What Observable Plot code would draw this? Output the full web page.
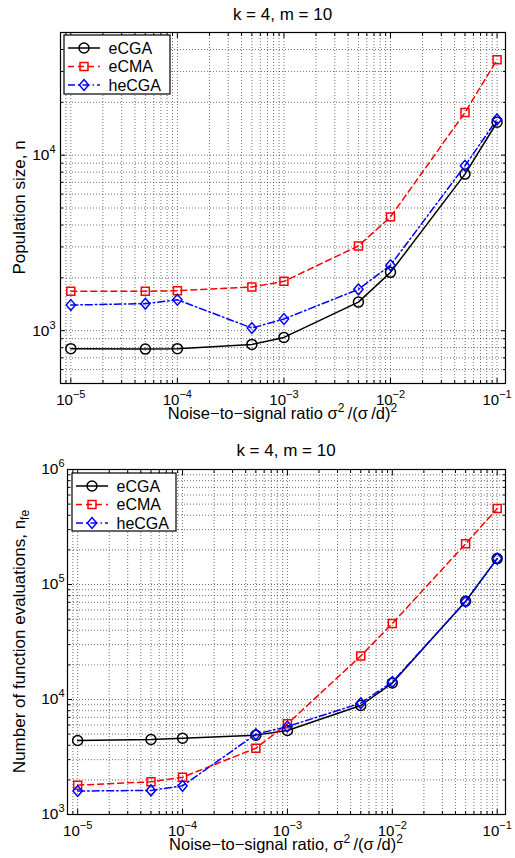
<!DOCTYPE html>
<html>
<head>
<meta charset="utf-8">
<script src="https://cdn.jsdelivr.net/npm/d3@7"></script>
<script src="https://cdn.jsdelivr.net/npm/@observablehq/plot@0.6"></script>
<style>
  body { margin: 0; background: #fff; }
  #wrap { position: relative; width: 515px; height: 858px; overflow: hidden; }
  #wrap svg { position: absolute; left: 0; }
</style>
</head>
<body>
<div id="wrap"></div>
<script>
// ---------------- data ----------------
const noise = [1e-5, 5e-5, 1e-4, 5e-4, 1e-3, 5e-3, 1e-2, 5e-2, 1e-1];
const seriesNames = ["eCGA", "eCMA", "heCGA"];

const popECGA  = [790, 785, 790, 835, 915, 1455, 2150, 7800, 15400];
const popECMA  = [1675, 1675, 1690, 1775, 1910, 3040, 4450, 17500, 35000];
const popHeCGA = [1400, 1425, 1500, 1035, 1165, 1720, 2360, 8700, 16000];

const nfeECGA  = [4400, 4490, 4600, 4900, 5370, 8870, 13900, 71500, 168000];
const nfeECMA  = [1800, 1925, 2110, 3770, 6140, 23900, 45800, 226000, 457000];
const nfeHeCGA = [1600, 1620, 1775, 4990, 5820, 9290, 14200, 71000, 168000];

const xTickValues = [1e-5, 1e-4, 1e-3, 1e-2, 1e-1];
const popTickValues = [1e3, 1e4];
const nfeTickValues = [1e3, 1e4, 1e5, 1e6];

const titleText = "k = 4, m = 10";
const popYLabel = [["Population size, n"]];
const nfeYLabel = [["Number of function evaluations, n"], ["fe", "sub"]];
const popXLabel = [["Noise\u2212to\u2212signal ratio \u03c3"], ["2", "sup"], ["\u2009/(\u03c3\u2009/d)"], ["2", "sup"]];
const nfeXLabel = [["Noise\u2212to\u2212signal ratio, \u03c3"], ["2", "sup"], ["\u2009/(\u03c3\u2009/d)"], ["2", "sup"]];

// ---------------- styles ----------------
const FONT = '"Liberation Sans", Arial, Helvetica, sans-serif';
const diamondSym = {
  draw(ctx, size) {
    const r = Math.sqrt(size / Math.PI);
    const w = r * 0.93, h = r * 1.08;
    ctx.moveTo(0, -h); ctx.lineTo(w, 0); ctx.lineTo(0, h); ctx.lineTo(-w, 0); ctx.closePath();
  }
};
const STYLE = {
  eCGA:  {color: "#000", dash: null, symbol: "circle", d3sym: d3.symbolCircle, r: 5},
  eCMA:  {color: "#f00", dash: "6,4", symbol: "square", d3sym: d3.symbolSquare, r: 4.5},
  heCGA: {color: "#00f", dash: "7,3,1.5,3", symbol: diamondSym, d3sym: diamondSym, r: 5}
};

function logMajor(lo, hi) {
  const out = [];
  for (let e = Math.floor(Math.log10(lo)); e <= Math.ceil(Math.log10(hi)); e++) {
    const v = Math.pow(10, e);
    if (v >= lo * 0.9999 && v <= hi * 1.0001) out.push(v);
  }
  return out;
}
function logMinor(lo, hi) {
  const out = [];
  for (let e = Math.floor(Math.log10(lo)) - 1; e <= Math.ceil(Math.log10(hi)); e++) {
    for (let m = 2; m <= 9; m++) {
      const v = m * Math.pow(10, e);
      if (v >= lo * 0.9999 && v <= hi * 1.0001) out.push(v);
    }
  }
  return out;
}
const fmtPow = d => "10|" + String(Math.round(Math.log10(d))).replace("-", "\u2212");
const NS = "http://www.w3.org/2000/svg";

function richText(parent, parts, supSize, shift) {
  let off = 0;
  parts.forEach(([txt, kind]) => {
    const sp = document.createElementNS(NS, "tspan");
    let target = kind === "sup" ? -shift : kind === "sub" ? shift * 0.6 : 0;
    const dy = target - off;
    if (dy !== 0) sp.setAttribute("dy", dy);
    off = target;
    if (kind) sp.setAttribute("font-size", supSize);
    sp.textContent = txt;
    parent.appendChild(sp);
  });
}

function panel(cfg) {
  const xDomain = [8e-6, 0.12];
  const rows = [];
  cfg.series.forEach((vals, si) => vals.forEach((v, i) => rows.push({x: noise[i], y: v, name: seriesNames[si]})));
  const xMinor = logMinor(...xDomain), yMinor = logMinor(...cfg.yDomain);
  const xMajorAll = logMajor(...xDomain), yMajorAll = logMajor(...cfg.yDomain);
  const grid = {stroke: "#000", strokeOpacity: 0.7, strokeWidth: 0.8, strokeDasharray: "1,2"};
  const noText = () => "";
  const marks = [
    Plot.ruleX(xMajorAll.concat(xMinor), grid),
    Plot.ruleY(yMajorAll.concat(yMinor), grid),
    Plot.axisX({anchor: "bottom", ticks: xTickValues, tickSize: 0, tickPadding: 10.5, tickFormat: fmtPow, fontSize: 15, label: null}),
    Plot.axisY({anchor: "left", ticks: cfg.yTicks, tickSize: 0, tickPadding: cfg.yPad, tickFormat: fmtPow, fontSize: 15.5, label: null}),
    Plot.axisX({anchor: "bottom", ticks: xMajorAll, tickSize: -5, tickFormat: noText, label: null}),
    Plot.axisX({anchor: "top", ticks: xMajorAll, tickSize: -5, tickFormat: noText, label: null}),
    Plot.axisX({anchor: "bottom", ticks: xMinor, tickSize: -3, tickFormat: noText, label: null}),
    Plot.axisX({anchor: "top", ticks: xMinor, tickSize: -3, tickFormat: noText, label: null}),
    Plot.axisY({anchor: "left", ticks: yMajorAll, tickSize: -5, tickFormat: noText, label: null}),
    Plot.axisY({anchor: "right", ticks: yMajorAll, tickSize: -5, tickFormat: noText, label: null}),
    Plot.axisY({anchor: "left", ticks: yMinor, tickSize: -3, tickFormat: noText, label: null}),
    Plot.axisY({anchor: "right", ticks: yMinor, tickSize: -3, tickFormat: noText, label: null})
  ];
  seriesNames.forEach(name => {
    const st = STYLE[name];
    const d = rows.filter(r => r.name === name);
    marks.push(Plot.line(d, {x: "x", y: "y", stroke: st.color, strokeWidth: 1.5, strokeDasharray: st.dash}));
    marks.push(Plot.dot(d, {x: "x", y: "y", stroke: st.color, strokeWidth: 1.5, fill: "none", r: st.r, symbol: st.symbol}));
  });
  marks.push(Plot.frame({stroke: "#000", strokeWidth: 1.2}));

  const svg = Plot.plot({
    width: 515, height: cfg.height,
    marginLeft: cfg.ml, marginRight: 10, marginTop: cfg.mt, marginBottom: cfg.mb,
    style: {fontFamily: FONT, fontSize: "15.5px", background: "transparent", color: "#000", overflow: "visible"},
    x: {type: "log", domain: xDomain},
    y: {type: "log", domain: cfg.yDomain},
    marks
  });
  svg.style.top = cfg.top + "px";

  // superscripted tick labels
  svg.querySelectorAll('g[aria-label$="tick label"] text').forEach(t => {
    const s = t.textContent;
    if (!s.includes("|")) return;
    const [b, e] = s.split("|");
    t.textContent = b;
    const sp = document.createElementNS(NS, "tspan");
    sp.setAttribute("dy", "-7");
    sp.setAttribute("font-size", "11px");
    sp.textContent = e;
    t.appendChild(sp);
  });

  const g = d3.select(svg).append("g").attr("font-family", FONT).attr("fill", "#000");
  const fx = (cfg.ml + 505) / 2;
  const fy = (cfg.mt + cfg.height - cfg.mb) / 2;
  g.append("text").attr("x", fx).attr("y", cfg.titleY).attr("text-anchor", "middle").attr("font-size", 17).text(titleText);
  const xl = g.append("text").attr("x", fx).attr("y", cfg.xlabY).attr("text-anchor", "middle").attr("font-size", 16.5);
  richText(xl.node(), cfg.xlab, 12, 6.5);
  const yl = g.append("text").attr("transform", `translate(25,${fy}) rotate(-90)`).attr("text-anchor", "middle").attr("font-size", 17);
  richText(yl.node(), cfg.ylab, 12, 7);

  // legend
  const b = cfg.legend;
  const lg = g.append("g");
  lg.append("rect").attr("x", b.x).attr("y", b.y).attr("width", b.w).attr("height", b.h)
    .attr("fill", "#fff").attr("stroke", "#000").attr("stroke-width", 1.2);
  seriesNames.forEach((name, i) => {
    const st = STYLE[name];
    const cy = b.y + 13 + i * 18.5;
    lg.append("line").attr("x1", b.x + 4).attr("x2", b.x + 36).attr("y1", cy).attr("y2", cy)
      .attr("stroke", st.color).attr("stroke-width", 1.5).attr("stroke-dasharray", st.dash);
    lg.append("path").attr("transform", `translate(${b.x + 20},${cy})`)
      .attr("d", d3.symbol(st.d3sym, Math.PI * st.r * st.r)())
      .attr("fill", "none").attr("stroke", st.color).attr("stroke-width", 1.5);
    lg.append("text").attr("x", b.x + 44.5).attr("y", cy).attr("dy", "0.36em")
      .attr("text-anchor", "start").attr("font-size", 16).text(name);
  });
  return svg;
}

const wrap = document.getElementById("wrap");
wrap.appendChild(panel({
  top: 0, height: 420, ml: 60, mt: 32, mb: 37,
  yDomain: [500, 50000], yTicks: popTickValues, yPad: 5,
  series: [popECGA, popECMA, popHeCGA],
  titleY: 19.5, xlabY: 418.5, xlab: popXLabel, ylab: popYLabel,
  legend: {x: 64, y: 35, w: 106, h: 59}
}));
wrap.appendChild(panel({
  top: 420, height: 438, ml: 67, mt: 49, mb: 44,
  yDomain: [1e3, 1e6], yTicks: nfeTickValues, yPad: 3,
  series: [nfeECGA, nfeECMA, nfeHeCGA],
  titleY: 36, xlabY: 429.5, xlab: nfeXLabel, ylab: nfeYLabel,
  legend: {x: 72, y: 53, w: 104, h: 58}
}));
</script>
</body>
</html>
